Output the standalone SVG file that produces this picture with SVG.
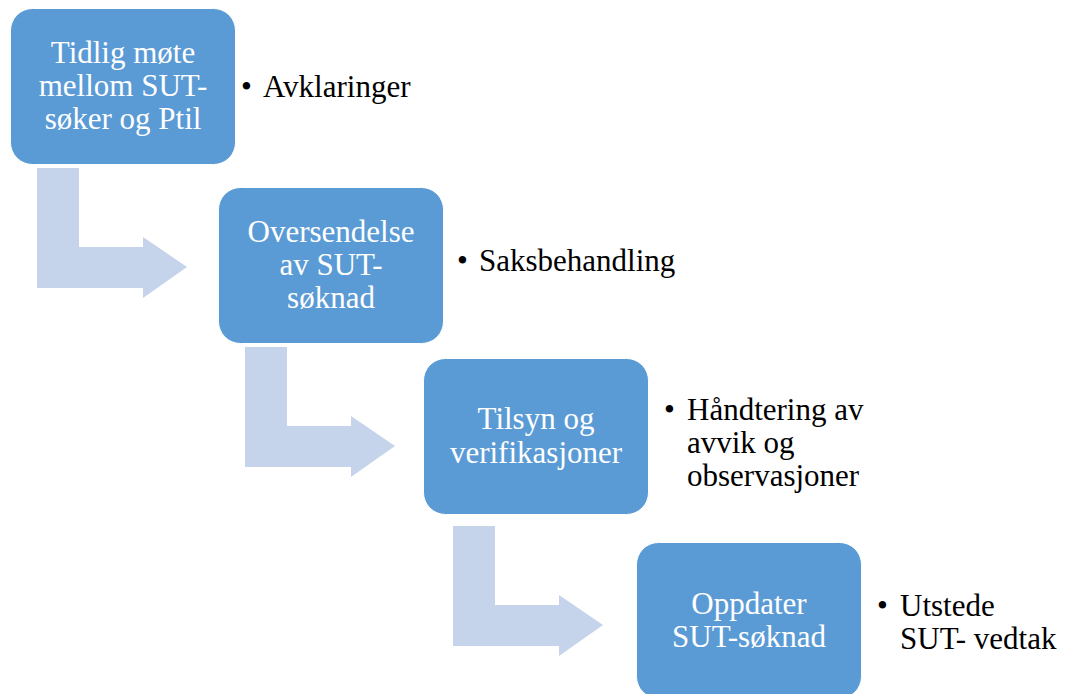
<svg xmlns="http://www.w3.org/2000/svg" width="1066" height="694" viewBox="0 0 1066 694">
<style>
.box{fill:#5B9BD5;stroke:#ffffff;stroke-width:1}
.arr{fill:#C5D4EA}
.bt{font-family:"Liberation Serif","Times New Roman",serif;font-size:31px;fill:#ffffff;text-anchor:middle}
.lt{font-family:"Liberation Serif","Times New Roman",serif;font-size:31px;fill:#000000}
</style>
<rect width="1066" height="694" fill="#ffffff"/>
<g id="connectors">
<path class="arr" d="M37,168 H79 V247 H143 V237 L187,267 L143,298 V288 H37 Z"/>
<path class="arr" d="M245,347 H287 V426 H351 V416 L395,446 L351,477 V467 H245 Z"/>
<path class="arr" d="M453,526 H495 V605 H559 V595 L603,625 L559,656 V646 H453 Z"/>
</g>
<g id="node1">
<rect class="box" x="10.5" y="8.5" width="225" height="156" rx="22"/>
<text class="bt" x="123" y="63">Tidlig møte</text>
<text class="bt" x="123" y="96">mellom SUT-</text>
<text class="bt" x="123" y="129">søker og Ptil</text>
</g>
<g id="note1">
<text class="lt" x="241" y="97">•</text>
<text class="lt" x="263" y="97">Avklaringer</text>
</g>
<g id="node2">
<rect class="box" x="218.5" y="187.5" width="225" height="156" rx="22"/>
<text class="bt" x="331" y="242">Oversendelse</text>
<text class="bt" x="331" y="275">av SUT-</text>
<text class="bt" x="331" y="308">søknad</text>
</g>
<g id="note2">
<text class="lt" x="457" y="271">•</text>
<text class="lt" x="479" y="271">Saksbehandling</text>
</g>
<g id="node3">
<rect class="box" x="423.5" y="358.5" width="225" height="156" rx="22"/>
<text class="bt" x="536" y="429">Tilsyn og</text>
<text class="bt" x="536" y="463">verifikasjoner</text>
</g>
<g id="note3">
<text class="lt" x="664" y="420">•</text>
<text class="lt" x="687" y="420">Håndtering av</text>
<text class="lt" x="687" y="453">avvik og</text>
<text class="lt" x="687" y="486">observasjoner</text>
</g>
<g id="node4">
<rect class="box" x="636.5" y="542.5" width="225" height="156" rx="22"/>
<text class="bt" x="749" y="614">Oppdater</text>
<text class="bt" x="749" y="647">SUT-søknad</text>
</g>
<g id="note4">
<text class="lt" x="877" y="616">•</text>
<text class="lt" x="900" y="616">Utstede</text>
<text class="lt" x="900" y="649">SUT- vedtak</text>
</g>
</svg>
